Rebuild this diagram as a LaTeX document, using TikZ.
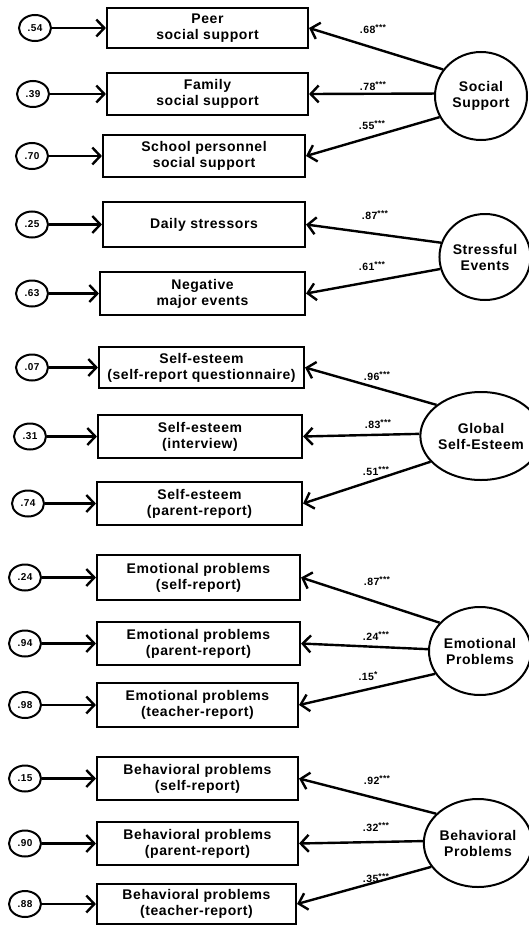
\documentclass[tikz,border=0pt]{standalone}
\usepackage{fontspec}
\setmainfont{Liberation Sans}[LetterSpace=4]
\usetikzlibrary{arrows.meta,shapes.geometric}
\newcommand{\stars}[1]{\raisebox{2.5pt}{\fontsize{8.5}{9}\selectfont #1}}
\tikzset{
  obs/.style={draw,line width=2.1pt,align=center,inner sep=0pt,
    font=\fontsize{14}{16}\selectfont\bfseries},
  res/.style={draw,ellipse,line width=2pt,minimum width=32pt,minimum height=26pt,inner sep=0pt,
    font=\fontsize{10}{12}\selectfont\bfseries},
  lat/.style={draw,ellipse,line width=2pt,minimum width=92pt,minimum height=88pt,inner sep=0pt,align=center,
    font=\fontsize{14}{16}\selectfont\bfseries},
  arr/.style={line width=2.4pt,-{Straight Barb[length=8pt,width=17pt,line width=2.4pt]}},
  lab/.style={font=\fontsize{10.5}{12}\selectfont\bfseries,inner sep=0pt},
}
\begin{document}
\begin{tikzpicture}[x=1pt,y=-1pt]
\useasboundingbox (0,0) rectangle (528,926);
% observed boxes
\node[obs,minimum width=201pt,minimum height=40pt] (b1) at (207.5,28) {Peer\\social support};
\node[obs,minimum width=201pt,minimum height=42pt] (b2) at (207.5,94) {Family\\social support};
\node[obs,minimum width=202pt,minimum height=42pt] (b3) at (204,156) {School personnel\\social support};
\node[obs,minimum width=202pt,minimum height=45pt] (b4) at (204,224.5) {Daily stressors};
\node[obs,minimum width=205pt,minimum height=43pt] (b5) at (202.5,293.5) {Negative\\major events};
\node[obs,minimum width=205pt,minimum height=41pt] (b6) at (201.5,367.5) {Self-esteem\\(self-report questionnaire)};
\node[obs,minimum width=204pt,minimum height=43pt] (b7) at (200,436.5) {Self-esteem\\(interview)};
\node[obs,minimum width=205pt,minimum height=43pt] (b8) at (199.5,503.5) {Self-esteem\\(parent-report)};
\node[obs,minimum width=203pt,minimum height=45pt] (b9) at (198.5,577.5) {Emotional problems\\(self-report)};
\node[obs,minimum width=203pt,minimum height=43pt] (b10) at (198.5,643.5) {Emotional problems\\(parent-report)};
\node[obs,minimum width=201pt,minimum height=44pt] (b11) at (197.5,705) {Emotional problems\\(teacher-report)};
\node[obs,minimum width=201pt,minimum height=43pt] (b12) at (197.5,778.5) {Behavioral problems\\(self-report)};
\node[obs,minimum width=201pt,minimum height=43pt] (b13) at (197.5,843.5) {Behavioral problems\\(parent-report)};
\node[obs,minimum width=199pt,minimum height=40pt] (b14) at (196.5,904) {Behavioral problems\\(teacher-report)};
% residuals
\node[res] (r1) at (35,28) {.54};
\node[res] (r2) at (33,94) {.39};
\node[res] (r3) at (32,156) {.70};
\node[res] (r4) at (32,224.5) {.25};
\node[res] (r5) at (32,293.5) {.63};
\node[res] (r6) at (32,367.5) {.07};
\node[res] (r7) at (30,436.5) {.31};
\node[res] (r8) at (28,503.5) {.74};
\node[res] (r9) at (25,577.5) {.24};
\node[res] (r10) at (25,643.5) {.94};
\node[res] (r11) at (25,705) {.98};
\node[res] (r12) at (25,778.5) {.15};
\node[res] (r13) at (25,843.5) {.90};
\node[res] (r14) at (25,904) {.88};
\foreach \i in {1,...,14} {\draw[arr] (r\i.east) -- (b\i.west);}
% latent
\node[lat] (ss) at (481,96) {Social\\Support};
\node[lat,minimum width=86pt,minimum height=86pt] (se) at (485,257) {Stressful\\Events};
\node[lat] (gs) at (481,436) {Global\\Self-Esteem};
\node[lat] (ep) at (480,651) {Emotional\\Problems};
\node[lat] (bp) at (478,843) {Behavioral\\Problems};
% loadings
\draw[arr] (ss.145) -- (b1.east);
\draw[arr] (ss.177) -- (b2.east);
\draw[arr] (ss.207) -- (b3.east);
\draw[arr] (se.162) -- (b4.east);
\draw[arr] (se.195) -- (b5.east);
\draw[arr] (gs.145) -- (b6.east);
\draw[arr] (gs.178) -- (b7.east);
\draw[arr] (gs.207) -- (b8.east);
\draw[arr] (ep.145) -- (b9.east);
\draw[arr] (ep.178) -- (b10.east);
\draw[arr] (ep.207) -- (b11.east);
\draw[arr] (bp.145) -- (b12.east);
\draw[arr] (bp.178) -- (b13.east);
\draw[arr] (bp.207) -- (b14.east);
% labels
\node[lab] (l1) at (373,29) {.68\stars{***}};
\node[lab] (l2) at (373,86) {.78\stars{***}};
\node[lab] (l3) at (372,125) {.55\stars{***}};
\node[lab] (l4) at (375,215) {.87\stars{***}};
\node[lab] (l5) at (372,266) {.61\stars{***}};
\node[lab] (l6) at (377,376) {.96\stars{***}};
\node[lab] (l7) at (378,424) {.83\stars{***}};
\node[lab] (l8) at (376,471) {.51\stars{***}};
\node[lab] (l9) at (377,581) {.87\stars{***}};
\node[lab] (l10) at (376,636) {.24\stars{***}};
\node[lab] (l11) at (368,676) {.15\stars{*}};
\node[lab] (l12) at (377,780) {.92\stars{***}};
\node[lab] (l13) at (376,827) {.32\stars{***}};
\node[lab] (l14) at (376,878) {.35\stars{***}};
\end{tikzpicture}
\end{document}
